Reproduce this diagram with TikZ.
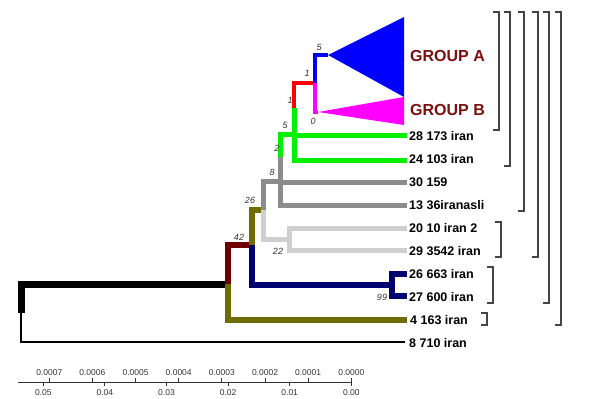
\documentclass[tikz,border=0pt]{standalone}
\usepackage{fontspec}
\setmainfont{Liberation Sans}
\definecolor{cgreen}{HTML}{00F000}
\definecolor{cblue}{HTML}{0000FF}
\definecolor{cmag}{HTML}{FF00FF}
\definecolor{cred}{HTML}{FF0000}
\definecolor{cgray}{HTML}{8C8C8C}
\definecolor{clgray}{HTML}{CFCFCF}
\definecolor{colive}{HTML}{6E6E00}
\definecolor{cmaroon}{HTML}{700000}
\definecolor{cnavy}{HTML}{000070}
\definecolor{cgroup}{HTML}{7A1010}
\definecolor{cbrk}{HTML}{444444}
\definecolor{caxis}{HTML}{333333}
\begin{document}
\begin{tikzpicture}[x=1pt,y=-1pt,
  br/.style={line width=#1, line join=miter},
  leaflab/.style={anchor=west, inner sep=0pt, font=\fontsize{12.5}{13}\selectfont\bfseries},
  grouplab/.style={anchor=west, inner sep=0pt, text=cgroup, font=\fontsize{16}{17}\selectfont\bfseries},
  bootlab/.style={inner sep=0pt, text=black!80, font=\fontsize{9}{10}\selectfont\itshape},
  axlab/.style={inner sep=0pt, text=caxis, font=\fontsize{8.5}{9}\selectfont},
  brk/.style={draw=cbrk, line width=1.2pt}]
\useasboundingbox (0,0) rectangle (600,399);
% internal nodes
\coordinate (root) at (21,313);
\coordinate (nA) at (228,284);
\coordinate (nB) at (252,245);
\coordinate (nC) at (263,210);
\coordinate (n22) at (289,239);
\coordinate (n99) at (392,285);
\coordinate (n8) at (280,181);
\coordinate (n2) at (280,157);
\coordinate (n5) at (294,134);
\coordinate (n1a) at (294,108);
\coordinate (n1b) at (315,83);
\coordinate (gA) at (328,55);
\coordinate (gB) at (318,112);
% leaves
\coordinate (l8710) at (405,342);
\coordinate (l4163) at (407,320);
\coordinate (l26663) at (407,274);
\coordinate (l27600) at (407,296);
\coordinate (l2010) at (407,228);
\coordinate (l2935) at (407,250);
\coordinate (l1336) at (407,205);
\coordinate (l30159) at (407,182);
\coordinate (l24103) at (407,160);
\coordinate (l28173) at (407,135);
% triangles
\fill[cblue] (gA) -- (404,17) -- (404,97) -- cycle;
\fill[cmag] (gB) -- (404,97) -- (404,125) -- cycle;
% branches
\draw[br=2.5pt,black] (root) |- (l8710);
\draw[br=7pt,black] (root) |- (nA);
\draw[br=6pt,colive] (nA) |- (l4163);
\draw[br=6pt,cmaroon] (nA) |- (nB);
\draw[br=6pt,cnavy] (nB) |- (n99);
\draw[br=6pt,cnavy] (n99) |- (l26663);
\draw[br=6pt,cnavy] (n99) |- (l27600);
\draw[br=6pt,colive] (nB) |- (nC);
\draw[br=5pt,clgray] (nC) |- (n22);
\draw[br=5pt,clgray] (n22) |- (l2010);
\draw[br=5pt,clgray] (n22) |- (l2935);
\draw[br=5pt,cgray] (nC) |- (n8);
\draw[br=5pt,cgray] (n8) |- (l1336);
\draw[br=5pt,cgray] (n8) |- (n2);
\draw[br=5pt,cgray] (n2) |- (l30159);
\draw[br=5pt,cgreen] (n2) |- (n5);
\draw[br=5pt,cgreen] (n5) |- (l24103);
\draw[br=5pt,cgreen] (n5) |- (n1a);
\draw[br=5pt,cgreen] (n1a) |- (l28173);
\draw[br=4.5pt,cred] (n1a) |- (n1b);
\draw[br=4pt,cblue] (n1b) |- (gA);
\draw[br=4pt,cmag] (n1b) |- (gB);
% leaf labels
\node[grouplab] (tA) at (410,56) {GROUP A};
\node[grouplab] (tB) at (410,110) {GROUP B};
\node[leaflab] (t28173) at (409,136) {28 173 iran};
\node[leaflab] (t24103) at (409,159) {24 103 iran};
\node[leaflab] (t30159) at (409,182) {30 159};
\node[leaflab] (t1336) at (409,205) {13 36iranasli};
\node[leaflab] (t2010) at (409,228) {20 10 iran 2};
\node[leaflab] (t2935) at (409,251) {29 3542 iran};
\node[leaflab] (t26663) at (409,274) {26 663 iran};
\node[leaflab] (t27600) at (409,297) {27 600 iran};
\node[leaflab] (t4163) at (410,320) {4 163 iran};
\node[leaflab] (t8710) at (409,343) {8 710 iran};
% bootstrap labels
\node[bootlab] (b5a) at (319,47) {5};
\node[bootlab] (b1b) at (307,73) {1};
\node[bootlab] (b1a) at (290,100) {1};
\node[bootlab] (b0) at (313,121) {0};
\node[bootlab] (b5) at (285,125) {5};
\node[bootlab] (b2) at (277,148) {2};
\node[bootlab] (b8) at (272,172) {8};
\node[bootlab] (b26) at (250,200) {26};
\node[bootlab] (b42) at (239,237) {42};
\node[bootlab] (b22) at (278,251) {22};
\node[bootlab] (b99) at (382,297) {99};
% brackets
\foreach \x/\ya/\yb in {499/12/130, 510/12/166, 524/12/211, 538/12/257, 549/12/303, 561/12/325, 501/222/257, 493/267/303, 487/313/325}
  \draw[brk] (\x-6,\ya) -- (\x,\ya) -- (\x,\yb) -- (\x-6,\yb);
% axis
\coordinate (ax0) at (18,382);
\coordinate (ax1) at (352,382);
\draw[caxis, line width=0.9pt] (ax0) -- (ax1);
\foreach \i/\t in {0/0.0000,1/0.0001,2/0.0002,3/0.0003,4/0.0004,5/0.0005,6/0.0006,7/0.0007} {
  \draw[caxis, line width=0.9pt] (351.3-43.15*\i,382) -- ++(0,-4);
  \node[axlab] at (351.3-43.15*\i,372.5) {\t};
}
\foreach \i/\t in {0/0.00,1/0.01,2/0.02,3/0.03,4/0.04,5/0.05} {
  \draw[caxis, line width=0.9pt] (351.3-61.6*\i,382) -- ++(0,4);
  \node[axlab] at (351.3-61.6*\i,393) {\t};
}
\end{tikzpicture}
\end{document}
